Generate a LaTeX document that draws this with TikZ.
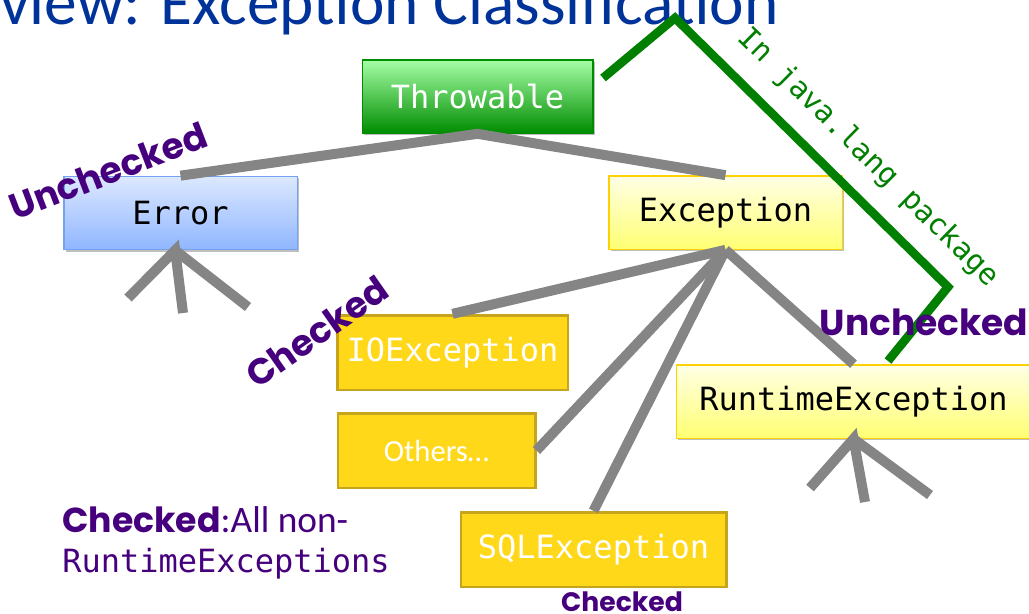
\documentclass[tikz,border=0pt]{standalone}
\usepackage{fontspec}
\setmonofont{DejaVu Sans Mono}
\newfontfamily\carlito{Carlito}
\newfontfamily\tagfont{Poppins}
\usepackage{xcolor}
\usetikzlibrary{shadows}

\definecolor{titleblue}{HTML}{003399}
\definecolor{tagpurple}{HTML}{46007E}
\definecolor{pkggreen}{HTML}{007F00}
\definecolor{branchgray}{HTML}{858585}
\definecolor{goldfill}{HTML}{FFD81A}
\definecolor{golddraw}{HTML}{C6A41C}
\definecolor{errtop}{HTML}{DCE8FF}
\definecolor{errbottom}{HTML}{90B6FF}
\definecolor{errdraw}{HTML}{74A2EE}

\begin{document}
\begin{tikzpicture}[x=0.75pt, y=-0.75pt,
    box/.style={draw, rectangle, minimum height=55pt, inner sep=0pt, line width=1pt, font=\ttfamily\fontsize{24}{28}\selectfont,
        drop shadow={shadow xshift=1.5pt, shadow yshift=-1.5pt, opacity=0.25, fill=black}},
    greenbox/.style={box, draw=green!55!black, top color=green!35!white, bottom color=green!55!black, text=white},
    bluebox/.style={box, draw=errdraw, top color=errtop, bottom color=errbottom, text=black},
    yellowbox/.style={box, draw=yellow!70!orange, top color=yellow!10!white, bottom color=yellow!55!white, text=black},
    goldbox/.style={draw=golddraw, fill=goldfill, rectangle, minimum height=56pt, inner sep=0pt, line width=2pt, text=white, font=\ttfamily\fontsize{24}{28}\selectfont},
    branch/.style={draw=branchgray, line width=7.5pt},
    pkgline/.style={draw=pkggreen, line width=6.5pt},
    tag/.style={text=tagpurple, inner sep=0pt, font=\tagfont\bfseries\fontsize{27}{30}\selectfont}
]
    \clip (0,0) rectangle (1029,614);

    % title
    \node (title) [anchor=base west, inner sep=0pt, text=titleblue, font=\carlito\fontsize{49}{55}\selectfont] at (0,24) {view: Exception Classification};

    % classes
    \node (thr) [greenbox, minimum width=173pt] at (477.5,96.5) {Throwable};
    \node (err) [bluebox, minimum width=175pt] at (180.5,213) {Error};
    \node (exc) [yellowbox, minimum width=175pt] at (725.5,212.5) {Exception};
    \node (rte) [yellowbox, minimum width=266pt] at (853.5,401.5) {RuntimeException};
    \node (ioe) [goldbox, minimum width=173pt] at (452.5,352.5) {IOException};
    \node (oth) [goldbox, minimum width=148pt, font=\carlito\fontsize{23}{26}\selectfont] at (436.5,450.5) {Others…};
    \node (sql) [goldbox, minimum width=199pt] at (593.5,549.5) {SQLException};

    % free ends of the open branches
    \coordinate (errA) at (128,298);
    \coordinate (errB) at (183,313);
    \coordinate (errC) at (248,307);
    \coordinate (rteA) at (810,488);
    \coordinate (rteB) at (865,502);
    \coordinate (rteC) at (930,495);

    \draw [branch] (err.north) -- (thr.south) -- (exc.north);
    \draw [branch] (ioe.north) -- (exc.south);
    \draw [branch] (oth.east) -- (exc.south);
    \draw [branch] (sql.north) -- (exc.south);
    \draw [branch] (rte.north) -- (exc.south);
    \draw [branch] (errA) -- ([xshift=-4pt]err.south) -- (errB);
    \draw [branch] ([xshift=-4pt]err.south) -- (errC);
    \draw [branch] (rteA) -- (rte.south) -- (rteB);
    \draw [branch] (rte.south) -- (rteC);

    % java.lang bracket
    \coordinate (pkgA) at (603,78);
    \coordinate (pkgB) at (675,18);
    \coordinate (pkgC) at (948,287);
    \coordinate (pkgD) at (888,361);
    \draw [pkgline] (pkgA) -- (pkgB) -- node (pkglabel) [sloped, above=13pt, pos=0.615, inner sep=0pt, text=pkggreen, font=\ttfamily\fontsize{22}{24}\selectfont] {In java.lang package} (pkgC) -- (pkgD);

    % checked / unchecked tags
    \node (tagerr) [tag, rotate=21] at (108,171) {Unchecked};
    \node (tagioe) [tag, rotate=35] at (317,332) {Checked};
    \node (tagrte) [tag] at (924,322) {Unchecked};
    \node (tagsql) [tag, font=\tagfont\bfseries\fontsize{20}{22}\selectfont] at (622,602) {Checked};
    \node (note) [anchor=base west, inner sep=0pt, align=left, text=tagpurple, font=\fontsize{26}{30}\selectfont] at (62,572)
        {{\tagfont\bfseries Checked}{\carlito\fontsize{28}{30}\selectfont :All non-}\\{\ttfamily\fontsize{24}{30}\selectfont RuntimeExceptions}};
\end{tikzpicture}
\end{document}
